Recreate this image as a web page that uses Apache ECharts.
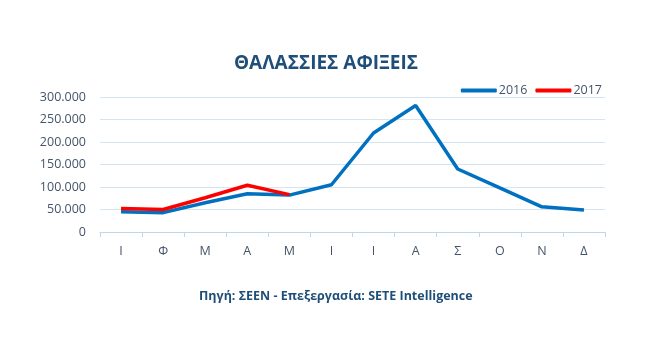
<!DOCTYPE html>
<html>
<head>
<meta charset="utf-8">
<script src="https://cdn.jsdelivr.net/npm/echarts@6/dist/echarts.min.js"></script>
<style>
  html, body { margin: 0; padding: 0; background: #fff; }
  #chart { width: 645px; height: 352px; }
</style>
</head>
<body>
<div id="chart"></div>
<script>
const months = ["Ι", "Φ", "Μ", "Α", "Μ", "Ι", "Ι", "Α", "Σ", "Ο", "Ν", "Δ"];
const arrivals2016 = [45000, 43000, 65000, 85000, 82000, 105000, 220000, 281000, 140000, 98000, 56000, 49000];
const arrivals2017 = [52000, 50000, 76000, 104000, 83000];
const yTicks = [0, 50000, 100000, 150000, 200000, 250000, 300000];

const chart = echarts.init(document.getElementById("chart"));
chart.setOption({
  animation: false,
  textStyle: { fontFamily: "Open Sans" },
  title: {
    text: "ΘΑΛΑΣΣΙΕΣ ΑΦΙΞΕΙΣ",
    left: 321,
    textAlign: "center",
    top: 49,
    textStyle: { color: "#1F4E79", fontSize: 19, fontWeight: "bold", fontFamily: "Open Sans" },
  },
  graphic: [
    {
      type: "text",
      left: 199,
      top: 290,
      style: {
        text: "Πηγή: ΣΕΕΝ - Επεξεργασία: SETE Intelligence",
        fill: "#1F4E79",
        font: "bold 12.5px 'Open Sans'",
      },
    },
  ],
  legend: {
    right: 38,
    top: 79,
    itemWidth: 36,
    itemHeight: 4,
    itemGap: 8,
    icon: "roundRect",
    textStyle: { color: "#44546A", fontSize: 12.5, padding: [0, 0, 0, -3] },
    data: ["2016", "2017"],
  },
  grid: { left: 100, right: 40, top: 97, bottom: 120 },
  xAxis: {
    type: "category",
    data: months,
    boundaryGap: true,
    axisLine: { lineStyle: { color: "#BDD7EE", width: 1 } },
    axisTick: { show: true, lineStyle: { color: "#BDD7EE" }, length: 5 },
    axisLabel: { color: "#44546A", fontSize: 12.5, margin: 13 },
  },
  yAxis: {
    type: "value",
    min: 0,
    max: 300000,
    interval: 50000,
    axisLine: { show: false },
    axisTick: { show: false },
    splitLine: { lineStyle: { color: "#D6E4F2", width: 1 } },
    axisLabel: {
      color: "#44546A",
      fontSize: 12.5,
      margin: 14,
      formatter: (v) => (yTicks.includes(v) ? (v === 0 ? "0" : (v / 1000) + ".000") : ""),
    },
  },
  series: [
    {
      name: "2016",
      type: "line",
      data: arrivals2016,
      symbol: "none",
      lineStyle: { color: "#0070C0", width: 3.5 },
      itemStyle: { color: "#0070C0" },
    },
    {
      name: "2017",
      type: "line",
      data: arrivals2017,
      symbol: "none",
      lineStyle: { color: "#FF0000", width: 3.5 },
      itemStyle: { color: "#FF0000" },
    },
  ],
});
</script>
</body>
</html>
